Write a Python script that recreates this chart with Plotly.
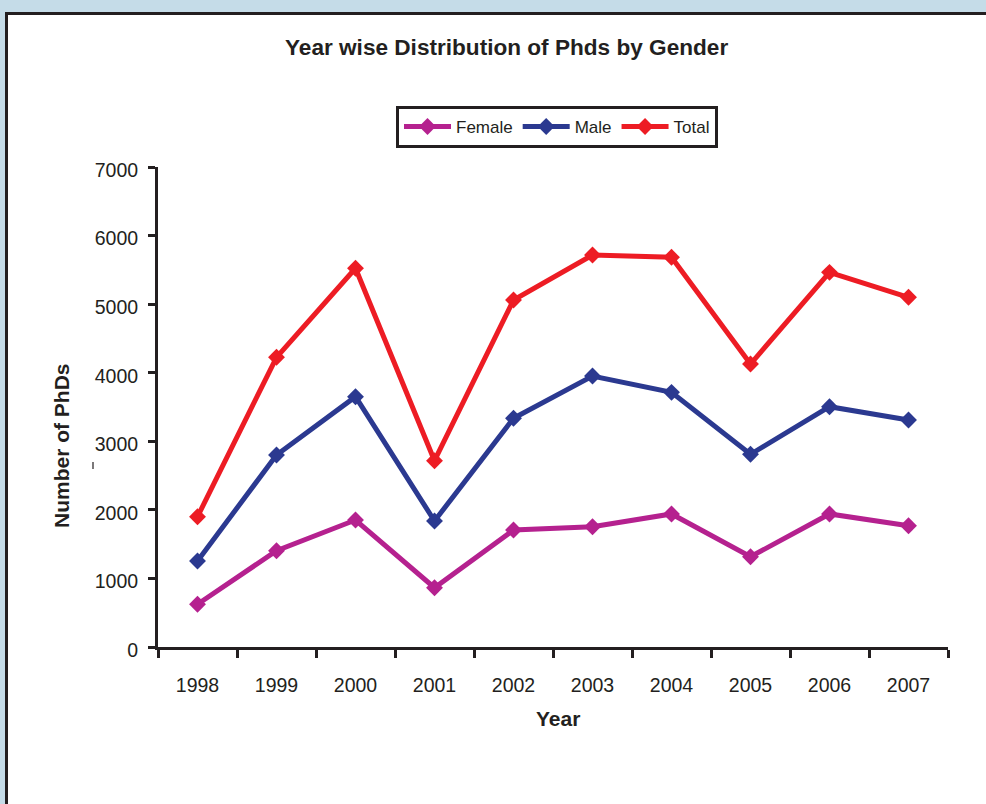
import plotly.graph_objects as go

years = ["1998", "1999", "2000", "2001", "2002", "2003", "2004", "2005", "2006", "2007"]
female = [623, 1404, 1852, 865, 1706, 1754, 1940, 1317, 1940, 1769]
male = [1254, 2800, 3650, 1838, 3335, 3952, 3714, 2810, 3504, 3310]
total = [1900, 4225, 5523, 2717, 5060, 5717, 5683, 4127, 5464, 5100]
y_ticks = [0, 1000, 2000, 3000, 4000, 5000, 6000, 7000]

series = [("Female", female, "#b5218f"), ("Male", male, "#2b3990"), ("Total", total, "#ed1c24")]

FONT = "Arial, 'Liberation Sans', sans-serif"
INK = "#231f20"

fig = go.Figure()
for name, vals, col in series:
    fig.add_trace(go.Scatter(
        x=years, y=vals, name=name, mode="lines+markers",
        line=dict(color=col, width=5),
        marker=dict(symbol="diamond", size=13, color=col),
    ))

L, R, T, B = 158, 38, 167, 157
PW, PH = 986 - L - R, 804 - T - B

def px(x):
    return (x - L) / PW

def py(y):
    return (804 - B - y) / PH

fig.update_layout(
    width=986, height=804,
    margin=dict(l=L, r=R, t=T, b=B, autoexpand=False),
    paper_bgcolor="#c5dce8",
    plot_bgcolor="white",
    font=dict(family=FONT, color=INK, size=19),
    showlegend=True,
    legend=dict(
        orientation="h", x=px(396), xanchor="left", y=py(106), yanchor="top",
        bordercolor=INK, borderwidth=3, bgcolor="white",
        font=dict(size=17, family=FONT, color=INK),
        itemwidth=47, tracegroupgap=0,
    ),
    shapes=[
        dict(type="rect", xref="paper", yref="paper", layer="below",
             x0=px(6.5), x1=px(1000), y0=py(820), y1=py(13.5),
             line=dict(color=INK, width=3), fillcolor="white"),
        dict(type="line", xref="paper", yref="paper",
             x0=px(93), x1=px(93), y0=py(462), y1=py(469),
             line=dict(color=INK, width=1.2)),
    ],
    annotations=[
        dict(text="<b>Year wise Distribution of Phds by Gender</b>", xref="paper", yref="paper",
             x=px(506), y=py(47), xanchor="center", yanchor="middle", showarrow=False,
             font=dict(size=22.6, family=FONT, color=INK)),
        dict(text="<b>Year</b>", xref="paper", yref="paper",
             x=px(558), y=py(718), xanchor="center", yanchor="middle", showarrow=False,
             font=dict(size=21, family=FONT, color=INK)),
        dict(text="<b>Number of PhDs</b>", xref="paper", yref="paper",
             x=px(61), y=py(446), xanchor="center", yanchor="middle", showarrow=False,
             textangle=-90, font=dict(size=21, family=FONT, color=INK)),
    ],
)

fig.update_xaxes(
    type="category", range=[-0.5, 9.5], tickson="boundaries",
    showline=True, linecolor=INK, linewidth=3,
    ticks="outside", ticklen=8, tickwidth=2.5, tickcolor=INK,
    showgrid=False, zeroline=False, ticklabelstandoff=19,
    tickfont=dict(size=19.5, family=FONT, color=INK),
)
fig.update_yaxes(
    range=[0, 7000], tickvals=y_ticks, ticktext=[str(v) for v in y_ticks],
    showline=True, linecolor=INK, linewidth=3,
    ticks="outside", ticklen=7, tickwidth=2.5, tickcolor=INK,
    showgrid=False, zeroline=False, ticklabelstandoff=6, ticklabelshift=3,
    tickfont=dict(size=19.5, family=FONT, color=INK),
)

fig.write_html("out.html", config={"displayModeBar": False},
               post_script="document.body.style.margin='0';")
